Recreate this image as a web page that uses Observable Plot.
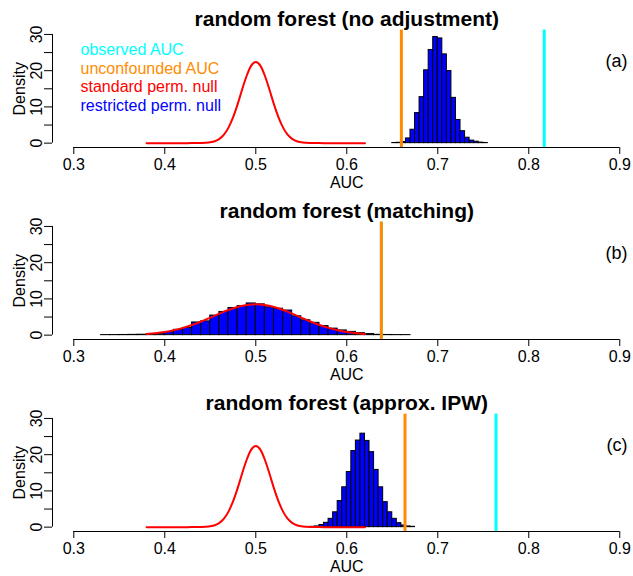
<!DOCTYPE html>
<html>
<head>
<meta charset="utf-8">
<script src="https://cdn.jsdelivr.net/npm/d3@7"></script>
<script src="https://cdn.jsdelivr.net/npm/@observablehq/plot@0.6"></script>
<style>
  html, body { margin: 0; padding: 0; background: #ffffff; }
  #chart svg { display: block; }
</style>
</head>
<body>
<div id="chart"></div>
<script>
// ---------- shared axis / legend data ----------
const xTicks = [0.3, 0.4, 0.5, 0.6, 0.7, 0.8, 0.9];
const yTicks = [0, 5, 10, 15, 20, 25, 30];
const legendLabels = ["observed AUC", "unconfounded AUC", "standard perm. null", "restricted perm. null"];
const legendColors = ["#00FFFF", "#FF8C00", "#FF0000", "#0000FF"];
const panelTitles = ["random forest (no adjustment)", "random forest (matching)", "random forest (approx. IPW)"];
const panelTags = ["(a)", "(b)", "(c)"];
const observedAUC = [0.817, 0.638, 0.764];
const unconfoundedAUC = [0.660, 0.638, 0.664];

// ---------- restricted permutation null histograms (density per bin) ----------
const histStartA = 0.650, histWidthA = 0.005;
const histA = [0.05, 0.1, 0.3, 1.3, 3.7, 8.3, 12.7, 20.1, 25.7, 29.3, 28.9, 24.5, 19.9, 12.5, 6.4, 3.3, 1.5, 0.7, 0.4, 0.15, 0.05];

const histStartB = 0.33, histWidthB = 0.01;
const histB = [0.02, 0.03, 0.05, 0.08, 0.12, 0.2, 0.37, 0.83, 1.47, 2.0, 3.5, 3.8, 5.4, 6.4, 7.5, 8.0, 8.75,
               8.5, 7.7, 7.3, 6.8, 5.2, 4.1, 3.4, 2.5, 1.8, 1.3, 0.9, 0.55, 0.3, 0.1, 0.05, 0.02, 0.02];

const histStartC = 0.560, histWidthC = 0.005;
const histC = [0.1, 0.2, 0.6, 1.2, 2.3, 4.1, 7.2, 11.0, 15.2, 21.0, 23.9, 25.8, 23.8, 20.7, 15.8, 11.0, 6.9, 4.1, 2.3, 1.1, 0.46, 0.2, 0.1];

// ---------- standard permutation null density curves ----------
const nullXAC = [0.380, 0.385, 0.390, 0.395, 0.400, 0.405, 0.410, 0.415, 0.420, 0.425, 0.430, 0.435, 0.440, 0.445,
                 0.450, 0.455, 0.460, 0.465, 0.470, 0.475, 0.480, 0.485, 0.490, 0.495, 0.500, 0.505, 0.510, 0.515,
                 0.520, 0.525, 0.530, 0.535, 0.540, 0.545, 0.550, 0.555, 0.560, 0.565, 0.570, 0.575, 0.580, 0.585,
                 0.590, 0.595, 0.600, 0.605, 0.610, 0.615, 0.620];
const nullYAC = [0, 0, 0, 0, 0, 0, 0, 0, 0, 0, 0.01, 0.01, 0.03, 0.09,
                 0.23, 0.54, 1.19, 2.36, 4.29, 7.1, 10.7, 14.8, 18.6, 21.4, 22.4, 21.4, 18.6, 14.8,
                 10.7, 7.1, 4.29, 2.36, 1.19, 0.54, 0.23, 0.09, 0.03, 0.01, 0.01, 0, 0, 0,
                 0, 0, 0, 0, 0, 0, 0];

const nullXB = [0.38, 0.39, 0.40, 0.41, 0.42, 0.43, 0.44, 0.45, 0.46, 0.47, 0.48, 0.49, 0.50,
                0.51, 0.52, 0.53, 0.54, 0.55, 0.56, 0.57, 0.58, 0.59, 0.60, 0.61, 0.62];
const nullYB = [0.33, 0.55, 0.88, 1.36, 2.0, 2.8, 3.76, 4.83, 5.92, 6.93, 7.76, 8.31, 8.5,
                8.31, 7.76, 6.93, 5.92, 4.83, 3.76, 2.8, 2.0, 1.36, 0.88, 0.55, 0.33];

// ---------- layout (R-like plot region: xlim/ylim extended by 4%) ----------
const W = 633, H = 192;
const marginLeft = 52, marginRight = 0, marginTop = 29.6, marginBottom = 45;
const xDomain = [0.2766, 0.9151];
const yDomain = [-1.2, 31.2];
const font = "'Liberation Sans', Arial, Helvetica, sans-serif";

function panel(i, hist, start, width, nullX, nullY, showLegend) {
  const bins = hist.map((v, k) => ({
    x1: +(start + k * width).toFixed(4),
    x2: +(start + (k + 1) * width).toFixed(4),
    y: v
  }));
  const nullPts = nullX.map((x, k) => ({x, y: nullY[k]}));
  const marks = [
    Plot.rectY(bins, {x1: "x1", x2: "x2", y1: 0, y2: "y", fill: "#0000FF", stroke: "black", strokeWidth: 1}),
    Plot.line(nullPts, {x: "x", y: "y", stroke: "#FF0000", strokeWidth: 2, curve: "monotone-x"}),
    Plot.ruleX([observedAUC[i]], {stroke: "#00FFFF", strokeWidth: 3}),
    Plot.ruleX([unconfoundedAUC[i]], {stroke: "#FF8C00", strokeWidth: 3}),
    // axis lines (R style: from first to last tick)
    Plot.ruleY([yDomain[0]], {x1: xTicks[0], x2: xTicks[xTicks.length - 1], stroke: "black", strokeWidth: 1}),
    Plot.ruleX([xDomain[0]], {y1: yTicks[0], y2: yTicks[yTicks.length - 1], stroke: "black", strokeWidth: 1}),
    Plot.axisX({ticks: xTicks, tickSize: 7, tickPadding: 4, tickFormat: d3.format(".1f"), label: null, fontSize: 16}),
    Plot.axisY({ticks: yTicks, tickSize: 8, tickPadding: 3, tickRotate: -90,
                tickFormat: d => (d % 10 === 0 ? String(d) : ""), label: null, fontSize: 16}),
    Plot.text([panelTitles[i]], {x: [0.6], frameAnchor: "top", dy: -4, lineAnchor: "bottom",
                                 fontWeight: "bold", fontSize: 21}),
    Plot.text(["AUC"], {x: [0.6], frameAnchor: "bottom", dy: 40.3, lineAnchor: "bottom", fontSize: 16}),
    Plot.text(["Density"], {y: [15], frameAnchor: "left", dx: -28, rotate: -90, lineAnchor: "bottom",
                            textAnchor: "middle", fontSize: 16}),
    Plot.text([panelTags[i]], {frameAnchor: "top-right", dx: -6, dy: 36.4, textAnchor: "end",
                               lineAnchor: "bottom", fontSize: 18})
  ];
  if (showLegend) {
    legendLabels.forEach((t, k) => {
      marks.push(Plot.text([t], {frameAnchor: "top-left", dx: 28, dy: 24.9 + k * 18.5, fill: legendColors[k],
                                 textAnchor: "start", lineAnchor: "bottom", fontSize: 16}));
    });
  }
  return Plot.plot({
    width: W, height: H,
    marginLeft, marginRight, marginTop, marginBottom,
    x: {domain: xDomain},
    y: {domain: yDomain},
    style: {fontFamily: font, fontSize: "16px", color: "black", background: "white", overflow: "visible"},
    marks
  });
}

const root = document.getElementById("chart");
root.appendChild(panel(0, histA, histStartA, histWidthA, nullXAC, nullYAC, true));
root.appendChild(panel(1, histB, histStartB, histWidthB, nullXB, nullYB, false));
root.appendChild(panel(2, histC, histStartC, histWidthC, nullXAC, nullYAC, false));
</script>
</body>
</html>
